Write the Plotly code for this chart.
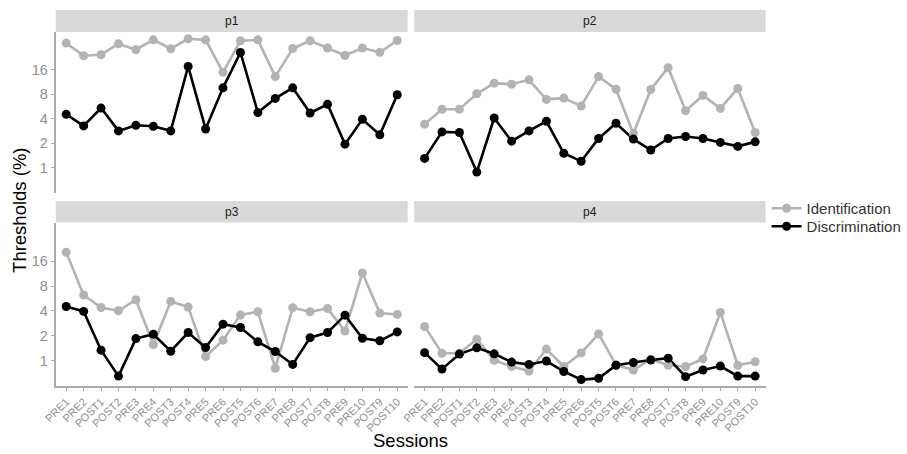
import plotly.graph_objects as go

sessions = ["PRE1", "PRE2", "POST1", "POST2", "PRE3", "PRE4", "POST3", "POST4", "PRE5", "PRE6",
            "POST5", "POST6", "PRE7", "PRE8", "POST7", "POST8", "PRE9", "PRE10", "POST9", "POST10"]

p1_ident = [34, 23.8, 24.5, 33.4, 28.2, 37.3, 29, 38.4, 37.3, 14.9, 36.3, 37.3, 13.2, 29.2, 36.3, 29.6, 24, 29.6, 26.2, 36.6]
p1_discr = [4.55, 3.28, 5.43, 2.85, 3.34, 3.25, 2.85, 17.6, 3.01, 9.62, 26.1, 4.78, 7.13, 9.62, 4.72, 6.03, 1.96, 3.95, 2.55, 7.9]
p2_ident = [3.44, 5.24, 5.24, 8.13, 10.96, 10.65, 12.05, 6.93, 7.19, 5.74, 13.2, 9.26, 2.65, 9.18, 17.0, 5.05, 7.76, 5.38, 9.44, 2.72]
p2_discr = [1.31, 2.77, 2.72, 0.89, 4.10, 2.13, 2.85, 3.74, 1.51, 1.21, 2.30, 3.54, 2.26, 1.66, 2.30, 2.43, 2.30, 2.06, 1.84, 2.09]
p3_ident = [20.6, 6.25, 4.41, 4.02, 5.47, 1.57, 5.22, 4.46, 1.12, 1.77, 3.57, 3.91, 0.81, 4.38, 3.91, 4.29, 2.28, 11.55, 3.77, 3.63]
p3_discr = [4.53, 3.95, 1.34, 0.65, 1.85, 2.09, 1.30, 2.19, 1.44, 2.77, 2.52, 1.69, 1.29, 0.90, 1.90, 2.19, 3.56, 1.87, 1.74, 2.23]
p4_ident = [2.59, 1.23, 1.23, 1.82, 1.01, 0.85, 0.75, 1.38, 0.85, 1.24, 2.11, 0.89, 0.77, 1.04, 0.88, 0.85, 1.05, 3.84, 0.88, 0.97]
p4_discr = [1.25, 0.79, 1.20, 1.43, 1.21, 0.96, 0.90, 0.99, 0.74, 0.59, 0.61, 0.88, 0.95, 1.02, 1.07, 0.64, 0.77, 0.86, 0.65, 0.65]

panels = ["p1", "p2", "p3", "p4"]
ident = [p1_ident, p2_ident, p3_ident, p4_ident]
discr = [p1_discr, p2_discr, p3_discr, p4_discr]
y_ticks = [1, 2, 4, 8, 16]
series_names = ["Identification", "Discrimination"]

GRAY = "#b3b3b3"
BLACK = "#000000"
AXIS = "#ababab"
TICKTXT = "#8f8f8f"
W, H = 907, 454

def px_x(x):
    return x / W

def px_y(y):
    return (H - y) / H

xdoms = [[px_x(56), px_x(409.5)], [px_x(416), px_x(769)]]
ydoms = [[px_y(193), px_y(32)], [px_y(386), px_y(223)]]
LOG2 = 0.30103
yrange = [-1.02 * LOG2, 5.54 * LOG2]

fig = go.Figure()
for i, name in enumerate(panels):
    k = "" if i == 0 else str(i + 1)
    for vals, col in ((ident[i], GRAY), (discr[i], BLACK)):
        fig.add_trace(go.Scatter(x=sessions, y=vals, mode="lines", line=dict(color=col, width=2.6),
                                 showlegend=False, xaxis="x" + k, yaxis="y" + k, hoverinfo="skip"))
    for vals, col in ((ident[i], GRAY), (discr[i], BLACK)):
        fig.add_trace(go.Scatter(x=sessions, y=vals, mode="markers", marker=dict(color=col, size=9),
                                 showlegend=False, xaxis="x" + k, yaxis="y" + k))

for nm, col, lg in zip(series_names, (GRAY, BLACK), ("legend", "legend2")):
    fig.add_trace(go.Scatter(x=[None], y=[None], mode="lines+markers", name=nm, legend=lg,
                             line=dict(color=col, width=2.6), marker=dict(color=col, size=9),
                             xaxis="x", yaxis="y"))

layout = dict(width=W, height=H, margin=dict(l=0, r=0, t=0, b=0),
              plot_bgcolor="white", paper_bgcolor="white",
              font=dict(family="Liberation Sans, Arial, sans-serif"))
for i in range(4):
    row, col = divmod(i, 2)
    k = "" if i == 0 else str(i + 1)
    bottom = row == 1
    left = col == 0
    layout["xaxis" + k] = dict(domain=xdoms[col], anchor="y" + k, type="category",
                               categoryorder="array", categoryarray=sessions,
                               range=[-0.6, 19.6], showgrid=False, zeroline=False,
                               showline=bottom, linecolor=AXIS, linewidth=2,
                               ticks="outside" if bottom else "", ticklen=3, tickwidth=1, tickcolor=AXIS,
                               showticklabels=bottom, tickangle=-45,
                               tickfont=dict(size=11, color=TICKTXT), automargin=False)
    layout["yaxis" + k] = dict(domain=ydoms[row], anchor="x" + k, type="log", range=yrange,
                               tickvals=y_ticks, ticktext=[str(v) for v in y_ticks],
                               showgrid=False, zeroline=False,
                               showline=left, linecolor=AXIS, linewidth=2,
                               ticks="outside" if left else "", ticklen=3, tickwidth=1, tickcolor=AXIS,
                               showticklabels=left, tickfont=dict(size=14.5, color=TICKTXT),
                               automargin=False)

shapes = []
annotations = []
strip_y = [[px_y(32), px_y(10)], [px_y(222.5), px_y(201)]]
for i, name in enumerate(panels):
    row, col = divmod(i, 2)
    shapes.append(dict(type="rect", xref="paper", yref="paper",
                       x0=xdoms[col][0], x1=xdoms[col][1], y0=strip_y[row][0], y1=strip_y[row][1],
                       fillcolor="#d9d9d9", line=dict(width=0), layer="below"))
    annotations.append(dict(text=name, xref="paper", yref="paper", showarrow=False,
                            x=(xdoms[col][0] + xdoms[col][1]) / 2,
                            y=(strip_y[row][0] + strip_y[row][1]) / 2,
                            xanchor="center", yanchor="middle",
                            font=dict(size=12, color="#1a1a1a")))
annotations.append(dict(text="Thresholds (%)", xref="paper", yref="paper", showarrow=False,
                        x=px_x(19), y=px_y(210), textangle=-90, xanchor="center", yanchor="middle",
                        font=dict(size=18.5, color="#000000")))
annotations.append(dict(text="Sessions", xref="paper", yref="paper", showarrow=False,
                        x=px_x(412), y=px_y(440), xanchor="center", yanchor="middle",
                        font=dict(size=18.5, color="#000000")))
layout["shapes"] = shapes
layout["annotations"] = annotations
legend_common = dict(xanchor="left", yanchor="top", font=dict(size=15, color="#333333"),
                     bgcolor="rgba(0,0,0,0)", itemwidth=30, tracegroupgap=0)
layout["legend"] = dict(x=px_x(770), y=px_y(192), **legend_common)
layout["legend2"] = dict(x=px_x(770), y=px_y(210), **legend_common)
fig.update_layout(**layout)
fig.write_html("out.html", config={"displayModeBar": False},
               post_script="document.body.style.margin='0px';document.body.style.overflow='hidden';")
